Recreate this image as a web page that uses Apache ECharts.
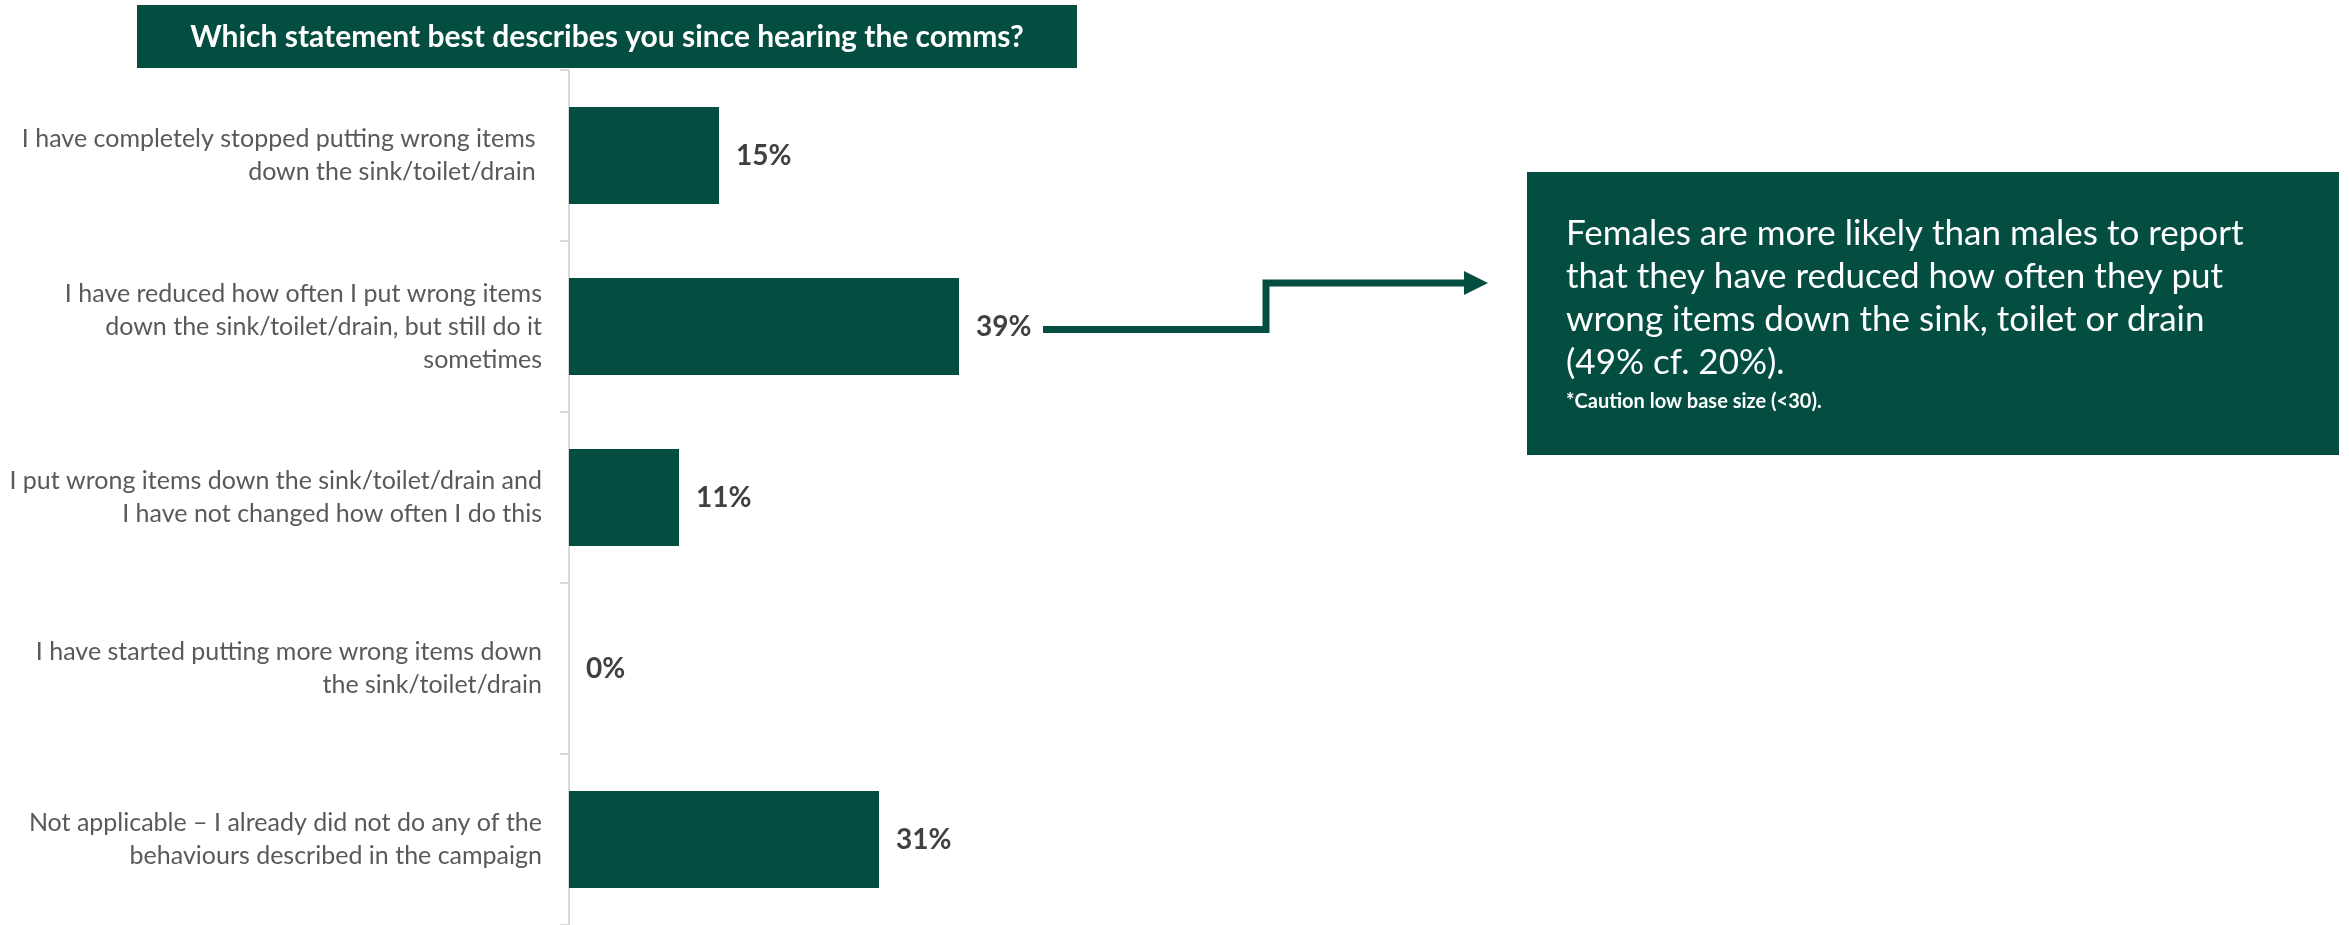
<!DOCTYPE html>
<html>
<head>
<meta charset="utf-8">
<script src="https://cdn.jsdelivr.net/npm/echarts@6/dist/echarts.min.js"></script>
<style>
  html, body { margin: 0; padding: 0; background: #ffffff; }
  #chart { width: 2349px; height: 925px; }
</style>
</head>
<body>
<div id="chart"></div>
<script>
// ---- Data ----
const categories = [
  'I have completely stopped putting wrong items \ndown the sink/toilet/drain ',
  'I have reduced how often I put wrong items\ndown the sink/toilet/drain, but still do it\nsometimes',
  'I put wrong items down the sink/toilet/drain and\nI have not changed how often I do this',
  'I have started putting more wrong items down\nthe sink/toilet/drain',
  'Not applicable \u2013 I already did not do any of the\nbehaviours described in the campaign'
];
const values = [15, 39, 11, 0, 31];
const chartTitle = 'Which statement best describes you since hearing the comms?';
const calloutLines = [
  'Females are more likely than males to report',
  'that they have reduced how often they put',
  'wrong items down the sink, toilet or drain',
  '(49% cf. 20%).'
];
const calloutNote = '*Caution low base size (<30).';
const highlightIndex = 1;

// ---- Styles ----
const GREEN = '#034E41';
const FONT = 'Lato, "Open Sans", sans-serif';

const chart = echarts.init(document.getElementById('chart'), null, { renderer: 'canvas' });

const option = {
  backgroundColor: '#ffffff',
  animation: false,
  grid: { left: 569, top: 70, width: 1000, height: 860, containLabel: false },
  xAxis: {
    type: 'value', min: 0, max: 100, show: false,
    splitLine: { show: false }
  },
  yAxis: {
    type: 'category',
    inverse: true,
    data: categories,
    axisLine: { show: true, lineStyle: { color: '#d9d9d9', width: 2 } },
    axisTick: { show: true, length: 9, lineStyle: { color: '#d9d9d9', width: 2 } },
    axisLabel: {
      margin: 27,
      color: '#595959',
      fontFamily: FONT,
      fontSize: 25,
      lineHeight: 33
    },
    splitLine: { show: false }
  },
  series: [{
    type: 'bar',
    data: values,
    barWidth: 97,
    itemStyle: { color: GREEN },
    label: {
      show: true,
      position: 'right',
      distance: 17,
      formatter: '{c}%',
      color: '#404040',
      fontFamily: FONT,
      fontWeight: 'bold',
      fontSize: 28
    }
  }]
};
chart.setOption(option);

// annotation graphics
const p = chart.convertToPixel({ gridIndex: 0 }, [values[highlightIndex], highlightIndex]);
const arrowStartX = p[0] + 84;
const arrowY = p[1] + 3;

chart.setOption({
  graphic: [
    { type: 'rect', shape: { x: 137, y: 5, width: 940, height: 63 }, style: { fill: GREEN }, z: 10 },
    { type: 'text', x: 607, y: 37, z: 11,
      style: { text: chartTitle, fill: '#ffffff', font: 'bold 30px ' + FONT, textAlign: 'center', textVerticalAlign: 'middle' } },
    { type: 'rect', shape: { x: 1527, y: 172, width: 812, height: 283 }, style: { fill: GREEN }, z: 10 },
    { type: 'text', x: 1566, y: 212, z: 11,
      style: { text: calloutLines.join('\n'), fill: '#ffffff', font: '35px ' + FONT, lineHeight: 43, textAlign: 'left', textVerticalAlign: 'top' } },
    { type: 'text', x: 1566, y: 402, z: 11,
      style: { text: calloutNote, fill: '#ffffff', font: 'bold 20px ' + FONT, textAlign: 'left', textVerticalAlign: 'middle' } },
    { type: 'polyline', z: 10,
      shape: { points: [[arrowStartX, arrowY], [1266, arrowY], [1266, 283], [1468, 283]] },
      style: { stroke: GREEN, lineWidth: 7, lineJoin: 'miter', lineCap: 'butt', fill: null } },
    { type: 'polygon', z: 10,
      shape: { points: [[1464, 271], [1488, 283], [1464, 295]] },
      style: { fill: GREEN } }
  ]
});
</script>
</body>
</html>
